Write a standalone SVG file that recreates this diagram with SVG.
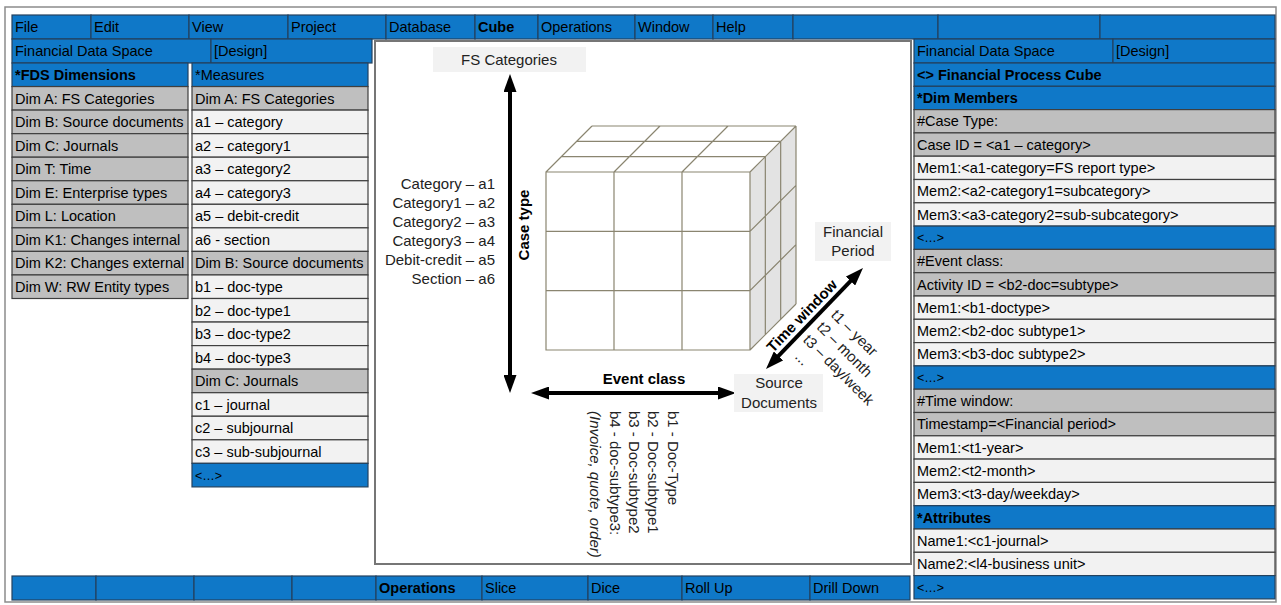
<svg xmlns="http://www.w3.org/2000/svg" width="1281" height="605" viewBox="0 0 1281 605">
<style>
.t{font-family:"Liberation Sans",Arial,sans-serif;font-size:14.5px;fill:#000}
.s{font-size:12.5px}
.b{font-weight:bold}
.blue{fill:#0f78c8;stroke:#23425f;stroke-width:1.2}
.gray{fill:#bfbfbf;stroke:#3f3f3f;stroke-width:1.2}
.light{fill:#f2f2f2;stroke:#3f3f3f;stroke-width:1.2}
.lbl{font-family:"Liberation Sans",Arial,sans-serif;font-size:15px;fill:#222}
.box{fill:#f2f2f2;stroke:none}
.cube{stroke:#8a8570;stroke-width:1.2;fill:none}
.conn{stroke:#000;stroke-width:4;fill:none}
</style>
<defs>
<marker id="ah" markerUnits="userSpaceOnUse" markerWidth="18" markerHeight="13" refX="1" refY="6.5" orient="auto-start-reverse" viewBox="0 0 18 13">
<path d="M0,0 L18,6.5 L0,13 z" fill="#000"/>
</marker>
</defs>
<rect x="5" y="7" width="1271" height="595" fill="#fff" stroke="#8c8c8c" stroke-width="1.5"/>

<g id="menu">
<rect class="blue" x="12" y="15" width="79" height="24"/><text class="t" x="15" y="32">File</text>
<rect class="blue" x="91" y="15" width="98" height="24"/><text class="t" x="94" y="32">Edit</text>
<rect class="blue" x="189" y="15" width="99" height="24"/><text class="t" x="192" y="32">View</text>
<rect class="blue" x="288" y="15" width="98" height="24"/><text class="t" x="291" y="32">Project</text>
<rect class="blue" x="386" y="15" width="89" height="24"/><text class="t" x="389" y="32">Database</text>
<rect class="blue" x="475" y="15" width="63" height="24"/><text class="t b" x="478" y="32">Cube</text>
<rect class="blue" x="538" y="15" width="97" height="24"/><text class="t" x="541" y="32">Operations</text>
<rect class="blue" x="635" y="15" width="78" height="24"/><text class="t" x="638" y="32">Window</text>
<rect class="blue" x="713" y="15" width="80" height="24"/><text class="t" x="716" y="32">Help</text>
<rect class="blue" x="793" y="15" width="145" height="24"/>
<rect class="blue" x="938" y="15" width="162" height="24"/>
<rect class="blue" x="1100" y="15" width="175" height="24"/>
</g>

<g id="fds-header">
<rect class="blue" x="12" y="39" width="199" height="24"/><text class="t" x="15" y="56">Financial Data Space</text>
<rect class="blue" x="211" y="39" width="161" height="24"/><text class="t" x="214" y="56">[Design]</text>
</g>

<g id="fds-dimensions">
<rect class="blue" x="12" y="63" width="176" height="23.55"/><text class="t b" x="15" y="80">*FDS Dimensions</text>
<rect class="gray" x="12" y="86.55" width="176" height="23.55"/><text class="t" x="15" y="103.6">Dim A: FS Categories</text>
<rect class="gray" x="12" y="110.1" width="176" height="23.55"/><text class="t" x="15" y="127.1">Dim B: Source documents</text>
<rect class="gray" x="12" y="133.65" width="176" height="23.55"/><text class="t" x="15" y="150.7">Dim C: Journals</text>
<rect class="gray" x="12" y="157.2" width="176" height="23.55"/><text class="t" x="15" y="174.2">Dim T: Time</text>
<rect class="gray" x="12" y="180.75" width="176" height="23.55"/><text class="t" x="15" y="197.8">Dim E: Enterprise types</text>
<rect class="gray" x="12" y="204.3" width="176" height="23.55"/><text class="t" x="15" y="221.3">Dim L: Location</text>
<rect class="gray" x="12" y="227.85" width="176" height="23.55"/><text class="t" x="15" y="244.9">Dim K1: Changes internal</text>
<rect class="gray" x="12" y="251.4" width="176" height="23.55"/><text class="t" x="15" y="268.4">Dim K2: Changes external</text>
<rect class="gray" x="12" y="274.95" width="176" height="23.55"/><text class="t" x="15" y="292">Dim W: RW Entity types</text>
</g>

<g id="measures">
<rect class="blue" x="192" y="63" width="176" height="23.55"/><text class="t" x="195" y="80">*Measures</text>
<rect class="gray" x="192" y="86.55" width="176" height="23.55"/><text class="t" x="195" y="103.6">Dim A: FS Categories</text>
<rect class="light" x="192" y="110.1" width="176" height="23.55"/><text class="t" x="195" y="127.1">a1 – category</text>
<rect class="light" x="192" y="133.65" width="176" height="23.55"/><text class="t" x="195" y="150.7">a2 – category1</text>
<rect class="light" x="192" y="157.2" width="176" height="23.55"/><text class="t" x="195" y="174.2">a3 – category2</text>
<rect class="light" x="192" y="180.75" width="176" height="23.55"/><text class="t" x="195" y="197.8">a4 – category3</text>
<rect class="light" x="192" y="204.3" width="176" height="23.55"/><text class="t" x="195" y="221.3">a5 – debit-credit</text>
<rect class="light" x="192" y="227.85" width="176" height="23.55"/><text class="t" x="195" y="244.9">a6 - section</text>
<rect class="gray" x="192" y="251.4" width="176" height="23.55"/><text class="t" x="195" y="268.4">Dim B: Source documents</text>
<rect class="light" x="192" y="274.95" width="176" height="23.55"/><text class="t" x="195" y="292">b1 – doc-type</text>
<rect class="light" x="192" y="298.5" width="176" height="23.55"/><text class="t" x="195" y="315.5">b2 – doc-type1</text>
<rect class="light" x="192" y="322.05" width="176" height="23.55"/><text class="t" x="195" y="339.1">b3 – doc-type2</text>
<rect class="light" x="192" y="345.6" width="176" height="23.55"/><text class="t" x="195" y="362.6">b4 – doc-type3</text>
<rect class="gray" x="192" y="369.15" width="176" height="23.55"/><text class="t" x="195" y="386.2">Dim C: Journals</text>
<rect class="light" x="192" y="392.7" width="176" height="23.55"/><text class="t" x="195" y="409.7">c1 – journal</text>
<rect class="light" x="192" y="416.25" width="176" height="23.55"/><text class="t" x="195" y="433.3">c2 – subjournal</text>
<rect class="light" x="192" y="439.8" width="176" height="23.55"/><text class="t" x="195" y="456.8">c3 – sub-subjournal</text>
<rect class="blue" x="192" y="463.35" width="176" height="23.55"/><text class="t s" x="195" y="479.6">&lt;…&gt;</text>
</g>

<g id="cube-view">
<rect x="375" y="41" width="536" height="523" fill="#fff" stroke="#767676" stroke-width="2"/>
</g>

<g id="fs-categories">
<rect class="box" x="433" y="47" width="153" height="25"/>
<text class="lbl" x="509" y="65" text-anchor="middle" font-size="14">FS Categories</text>
</g>

<g id="case-type-labels">
<text class="lbl" x="495" y="189" text-anchor="end">Category – a1</text>
<text class="lbl" x="495" y="208" text-anchor="end">Category1 – a2</text>
<text class="lbl" x="495" y="227" text-anchor="end">Category2 – a3</text>
<text class="lbl" x="495" y="246" text-anchor="end">Category3 – a4</text>
<text class="lbl" x="495" y="265" text-anchor="end">Debit-credit – a5</text>
<text class="lbl" x="495" y="284" text-anchor="end">Section – a6</text>
</g>

<g id="cube">
<polygon points="546,172 750,172 796,126 592,126" fill="#fff" stroke="none"/>
<polygon points="750,172 796,126 796,304 750,350" fill="#e3e3e3" stroke="none"/>
<rect x="546" y="172" width="204" height="178" fill="#fff" stroke="none"/>
<path class="cube" d="M546,172 H750 V350 H546 Z M614,172 V350 M682,172 V350 M546,231.33 H750 M546,290.67 H750
M546,172 L592,126 M614,172 L660,126 M682,172 L728,126 M750,172 L796,126
M561.33,156.67 H765.33 M576.67,141.33 H780.67 M592,126 H796
M765.33,156.67 V334.67 M780.67,141.33 V319.33 M796,126 V304
M750,231.33 L796,185.33 M750,290.67 L796,244.67 M750,350 L796,304"/>
</g>

<g id="connectors">
<line class="conn" x1="510" y1="91" x2="510" y2="376" marker-start="url(#ah)" marker-end="url(#ah)"/>
<line class="conn" x1="548" y1="393" x2="719" y2="393" marker-start="url(#ah)" marker-end="url(#ah)"/>
<line class="conn" x1="777.8" y1="356.7" x2="851.2" y2="280.3" marker-start="url(#ah)" marker-end="url(#ah)"/>
</g>

<g id="case-type">
<text class="lbl b" font-size="13.5" fill="#000" transform="translate(529,225) rotate(-90)" text-anchor="middle" style="fill:#000">Case type</text>
</g>

<g id="event-class">
<text class="lbl b" font-size="13.5" x="644" y="384" text-anchor="middle" style="fill:#000">Event class</text>
<text class="lbl" transform="translate(667.5,411) rotate(90)">b1 - Doc-Type</text>
<text class="lbl" transform="translate(647.5,411) rotate(90)">b2 - Doc-subtype1</text>
<text class="lbl" transform="translate(628.5,411) rotate(90)">b3 - Doc-subtype2</text>
<text class="lbl" transform="translate(609.5,411) rotate(90)">b4 - doc-subtype3:</text>
<text class="lbl" font-style="italic" transform="translate(589.5,411) rotate(90)">(Invoice, quote, order)</text>
</g>

<g id="source-documents">
<rect class="box" x="734" y="374" width="89" height="38"/>
<text class="lbl" x="779" y="388" text-anchor="middle" font-size="14.5">Source</text>
<text class="lbl" x="779" y="408" text-anchor="middle" font-size="14.5">Documents</text>
</g>

<g id="financial-period">
<rect class="box" x="815" y="222" width="76" height="39"/>
<text class="lbl" x="853" y="237" text-anchor="middle" font-size="14.5">Financial</text>
<text class="lbl" x="853" y="256" text-anchor="middle" font-size="14.5">Period</text>
</g>

<g id="time-window">
<text class="lbl b" font-size="14" transform="translate(802,316) rotate(-46)" x="0" y="5" text-anchor="middle" style="fill:#000">Time window</text>
<g transform="translate(838,308) rotate(45)">
<text class="lbl" x="0" y="11" font-size="15.5">t1 – year</text>
<text class="lbl" x="-1.4" y="29.7" font-size="15.5">t2 – month</text>
<text class="lbl" x="-2" y="48.4" font-size="15.5">t3 – day/week</text>
<text class="lbl" x="4" y="66" font-size="15.5">...</text>
</g>
</g>

<g id="cube-header">
<rect class="blue" x="914" y="39" width="199" height="24"/><text class="t" x="917" y="56">Financial Data Space</text>
<rect class="blue" x="1113" y="39" width="162" height="24"/><text class="t" x="1116" y="56">[Design]</text>
</g>

<g id="dim-members">
<rect class="blue" x="914" y="63" width="361" height="23.3"/><text class="t b" x="917" y="79.8">&lt;&gt; Financial Process Cube</text>
<rect class="blue" x="914" y="86.3" width="361" height="23.3"/><text class="t b" x="917" y="103.1">*Dim Members</text>
<rect class="gray" x="914" y="109.6" width="361" height="23.3"/><text class="t" x="917" y="126.4">#Case Type:</text>
<rect class="gray" x="914" y="132.9" width="361" height="23.3"/><text class="t" x="917" y="149.7">Case ID = &lt;a1 – category&gt;</text>
<rect class="light" x="914" y="156.2" width="361" height="23.3"/><text class="t" x="917" y="173">Mem1:&lt;a1-category=FS report type&gt;</text>
<rect class="light" x="914" y="179.5" width="361" height="23.3"/><text class="t" x="917" y="196.3">Mem2:&lt;a2-category1=subcategory&gt;</text>
<rect class="light" x="914" y="202.8" width="361" height="23.3"/><text class="t" x="917" y="219.6">Mem3:&lt;a3-category2=sub-subcategory&gt;</text>
<rect class="blue" x="914" y="226.1" width="361" height="23.3"/><text class="t s" x="917" y="242.2">&lt;…&gt;</text>
<rect class="gray" x="914" y="249.4" width="361" height="23.3"/><text class="t" x="917" y="266.2">#Event class:</text>
<rect class="gray" x="914" y="272.7" width="361" height="23.3"/><text class="t" x="917" y="289.5">Activity ID = &lt;b2-doc=subtype&gt;</text>
<rect class="light" x="914" y="296" width="361" height="23.3"/><text class="t" x="917" y="312.8">Mem1:&lt;b1-doctype&gt;</text>
<rect class="light" x="914" y="319.3" width="361" height="23.3"/><text class="t" x="917" y="336.1">Mem2:&lt;b2-doc subtype1&gt;</text>
<rect class="light" x="914" y="342.6" width="361" height="23.3"/><text class="t" x="917" y="359.4">Mem3:&lt;b3-doc subtype2&gt;</text>
<rect class="blue" x="914" y="365.9" width="361" height="23.3"/><text class="t s" x="917" y="382">&lt;…&gt;</text>
<rect class="gray" x="914" y="389.2" width="361" height="23.3"/><text class="t" x="917" y="406">#Time window:</text>
<rect class="gray" x="914" y="412.5" width="361" height="23.3"/><text class="t" x="917" y="429.3">Timestamp=&lt;Financial period&gt;</text>
<rect class="light" x="914" y="435.8" width="361" height="23.3"/><text class="t" x="917" y="452.6">Mem1:&lt;t1-year&gt;</text>
<rect class="light" x="914" y="459.1" width="361" height="23.3"/><text class="t" x="917" y="475.9">Mem2:&lt;t2-month&gt;</text>
<rect class="light" x="914" y="482.4" width="361" height="23.3"/><text class="t" x="917" y="499.2">Mem3:&lt;t3-day/weekday&gt;</text>
<rect class="blue" x="914" y="505.7" width="361" height="23.3"/><text class="t b" x="917" y="522.5">*Attributes</text>
<rect class="light" x="914" y="529" width="361" height="23.3"/><text class="t" x="917" y="545.8">Name1:&lt;c1-journal&gt;</text>
<rect class="light" x="914" y="552.3" width="361" height="23.3"/><text class="t" x="917" y="569.1">Name2:&lt;l4-business unit&gt;</text>
<rect class="blue" x="914" y="575.6" width="361" height="23.3"/><text class="t s" x="917" y="591.7">&lt;…&gt;</text>
</g>

<g id="operations-bar">
<rect class="blue" x="12" y="576" width="84" height="24"/>
<rect class="blue" x="96" y="576" width="98" height="24"/>
<rect class="blue" x="194" y="576" width="98" height="24"/>
<rect class="blue" x="292" y="576" width="84" height="24"/>
<rect class="blue" x="376" y="576" width="106" height="24"/><text class="t b" x="379" y="593">Operations</text>
<rect class="blue" x="482" y="576" width="106" height="24"/><text class="t" x="485" y="593">Slice</text>
<rect class="blue" x="588" y="576" width="94" height="24"/><text class="t" x="591" y="593">Dice</text>
<rect class="blue" x="682" y="576" width="128" height="24"/><text class="t" x="685" y="593">Roll Up</text>
<rect class="blue" x="810" y="576" width="100" height="24"/><text class="t" x="813" y="593">Drill Down</text>
</g>
</svg>
